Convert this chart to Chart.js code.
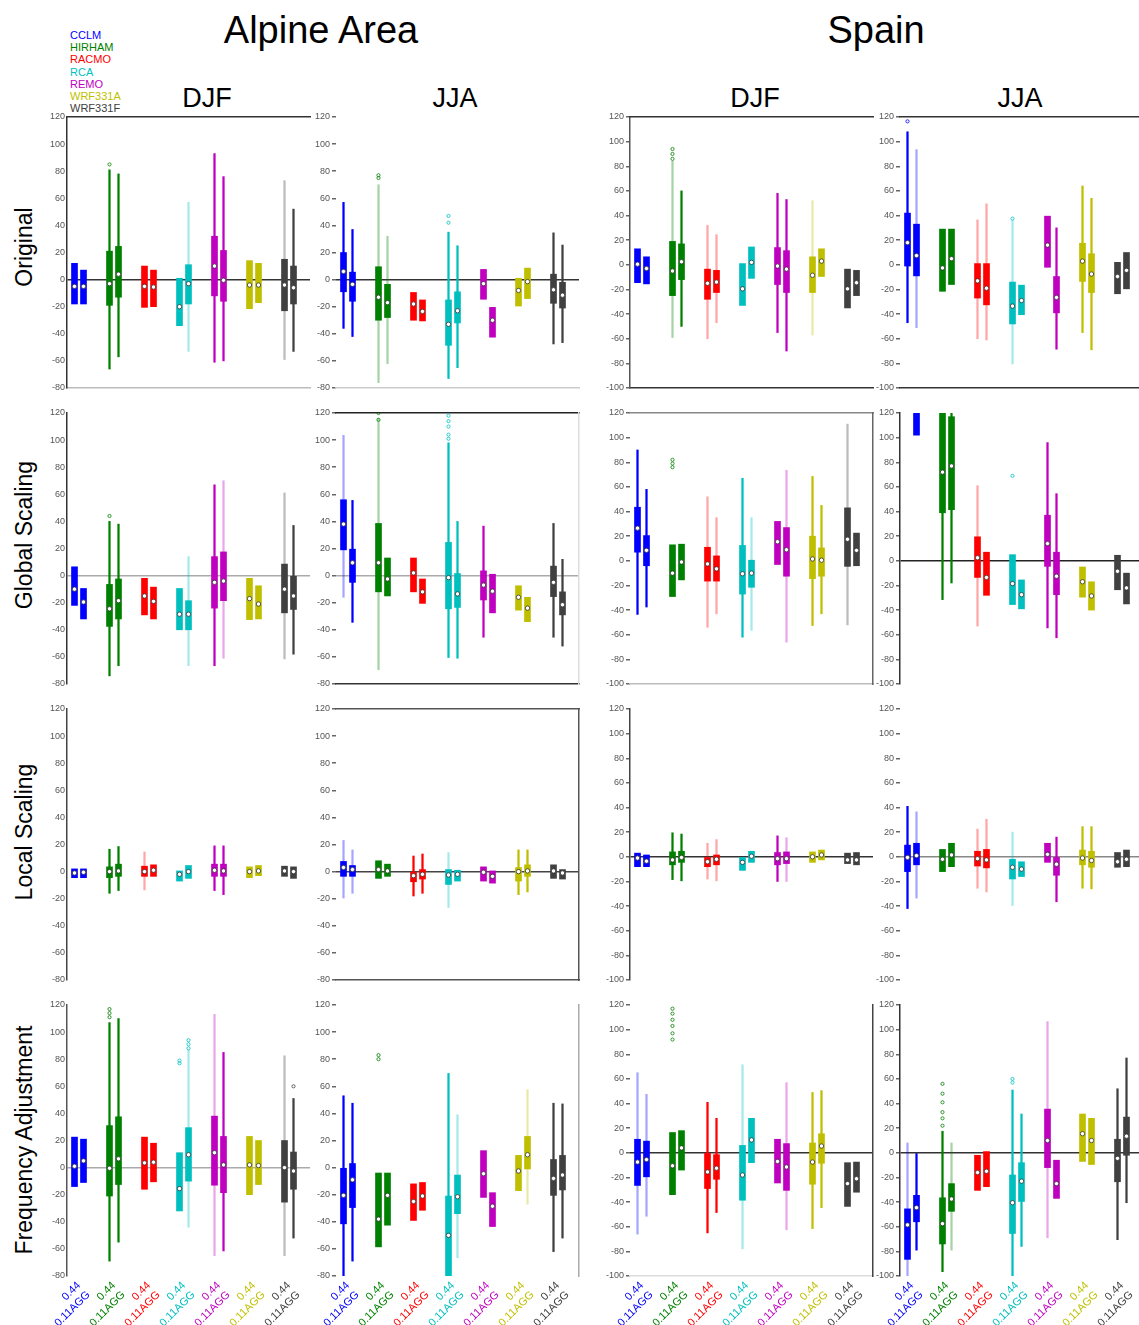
<!DOCTYPE html>
<html lang="en">
<head>
<meta charset="UTF-8">
<title>Alpine Area / Spain - boxplots</title>
<script src="https://cdn.jsdelivr.net/npm/chart.js"></script>
<style>
  html, body { margin: 0; padding: 0; background: #fff; overflow: hidden; }
  body { width: 1139px; height: 1325px; position: relative; font-family: "Liberation Sans", Arial, sans-serif; }
  .t { position: absolute; white-space: nowrap; color: #000; }
  .region { font-size: 38px; line-height: 38px; transform: translateX(-50%); }
  .season { font-size: 27px; line-height: 27px; transform: translateX(-50%); }
  .rowlab { font-size: 23px; line-height: 23px; transform: translate(-50%, -50%) rotate(-90deg); }
  #legend { position: absolute; left: 70px; top: 29px; font-size: 11px; line-height: 12.2px; }
  canvas { position: absolute; }
</style>
</head>
<body>
<div id="legend"></div>
<script>
const models = ['CCLM', 'HIRHAM', 'RACMO', 'RCA', 'REMO', 'WRF331A', 'WRF331F'];
const resolutions = ['0.44', '0.11AGG'];
const regions = ['Alpine Area', 'Spain'];
const seasons = ['DJF', 'JJA', 'DJF', 'JJA'];
const rowNames = ['Original', 'Global Scaling', 'Local Scaling', 'Frequency Adjustment'];
const alpineTicks = [-80, -60, -40, -20, 0, 20, 40, 60, 80, 100, 120];
const spainTicks = [-100, -80, -60, -40, -20, 0, 20, 40, 60, 80, 100, 120];

// each row: [whisker low, q1, median, q3, whisker high], order CCLM 0.44, CCLM 0.11AGG, HIRHAM 0.44 ...
const alpineDjfOriginal = [
  [null, -18, -5, 12, null], [null, -18, -5, 7, null],
  [-66, -19, -3, 21, 81], [-57, -13, 4, 24.5, 78],
  [null, -20.5, -5, 10, null], [null, -20, -5.5, 7, null],
  [null, -34, -20, 1, null], [-53, -18, -3, 11, 57],
  [-61, -12, 10, 32, 93], [-60, -16, -0.5, 21.5, 76],
  [null, -21.5, -4, 14, null], [null, -17, -4, 12, null],
  [-59, -23, -4, 15, 73], [-53, -18, -6, 10, 52]
];
const alpineJjaOriginal = [
  [-36, -9, 6, 20, 57], [-42, -16, -3.5, 5.5, 37],
  [-76, -30, -13, 9.5, 70], [-62, -28, -17, -3.5, 32],
  [null, -30, -18, -9.5, null], [null, -30.5, -23.5, -15, null],
  [-73, -48.5, -33, -15, 35], [-65, -32, -23, -9, 25],
  [null, -14.5, -3, 7.5, null], [null, -42.5, -30, -20.5, null],
  [null, -19.5, -8, 1, null], [null, -14, -1.5, 8.5, null],
  [-47.5, -17.5, -7.5, 4, 34.5], [-46.5, -21, -11.5, -2, 25.5]
];
const spainDjfOriginal = [
  [null, -14.5, 0.5, 13, null], [null, -15.5, -3, 6.5, null],
  [-59, -25, -5, 19, 84], [-50, -12, 2.5, 17, 60],
  [-60, -28, -15, -3.5, 32], [-47, -22.5, -14, -4.5, 24.5],
  [null, -33, -19.5, 1, null], [null, -11, 2, 14.5, null],
  [-55, -16, -1, 14, 58], [-70, -22.5, -3.5, 11.5, 53],
  [-57, -22.5, -8.5, 6.5, 52], [null, -9.5, 3, 13, null],
  [null, -35, -19.5, -3.5, null], [null, -25, -14.5, -4.5, null]
];
const spainJjaOriginal = [
  [-47, -1, 18, 42, 108], [-51, -9, 7.5, 33, 93.5],
  [null, -21.5, -2.5, 29, null], [null, -16, 5, 29, null],
  [-60, -27, -13, 1, 36.5], [-61, -32.5, -19, 1, 49.5],
  [-80.5, -48, -33.5, -14, 36], [null, -40.5, -29, -16.5, null],
  [null, -2, 16, 39.5, null], [-68.5, -39, -26.5, -9.5, 30],
  [-55, -13.5, 3, 17.5, 64], [-69, -22.5, -7.5, 9, 54],
  [null, -23.5, -9.5, 2, null], [null, -19.5, -4.5, 10, null]
];
const alpineDjfGlobal = [
  [null, -22, -10, 6.5, null], [null, -32, -19.5, -9.5, null],
  [-74, -37.5, -24.5, -6.5, 40], [-66.5, -32, -18.5, -2.5, 38],
  [null, -29, -15, -2, null], [null, -32, -19, -8.5, null],
  [null, -40, -28.5, -9.5, null], [-66.5, -40, -28.5, -18.5, 14],
  [-66.5, -24, -5, 14, 67], [-61, -18.5, -4, 17.5, 70],
  [null, -32.5, -17, -2, null], [null, -32, -21, -7.5, null],
  [-61.5, -27.5, -10, 8.5, 61], [-58, -25, -15, -0.5, 37]
];
const alpineJjaGlobal = [
  [-16, 19, 38, 56, 103.5], [-34.5, -5, 9.5, 19.5, 55.5],
  [-69.5, -12, 9.5, 38.5, 116], [null, -15, -2.5, 13, null],
  [null, -12, 2, 13, null], [null, -20.5, -12, -2.5, null],
  [-60.5, -24.5, -1.5, 24.5, 98], [-61, -23.5, -13.5, 1.5, 40],
  [-45.5, -18, -7, 3.5, 36.5], [null, -27.5, -11.5, 1, null],
  [null, -25.5, -16, -7.5, null], [null, -34, -24, -16, null],
  [-45.5, -15.5, -5, 7, 38.5], [-52, -29, -21.5, -12, 12]
];
const spainDjfGlobal = [
  [-43.5, 7, 26.5, 43.5, 90], [-37.5, -4, 8.5, 20.5, 58],
  [null, -29, -10, 13, null], [null, -15.5, -1, 13.5, null],
  [-54, -16.5, -2.5, 11, 52], [-43, -16.5, -6.5, 4, 35],
  [-62, -27, -10.5, 12.5, 67], [-56.5, -21.5, -10, 0.5, 35],
  [null, -3, 15.5, 32, null], [-66, -12.5, 9, 27, 73.5],
  [-52.5, -14.5, 1.5, 20, 68.5], [-43, -12.5, 0.5, 10.5, 45],
  [-52, -4.5, 17.5, 43, 111], [null, -4, 8.5, 22.5, null]
];
const spainJjaGlobal = [
  [null, 130, 145, 160, null], [null, 102, 130, 150, null],
  [-31.5, 39, 72, 125, 140], [-18, 41.5, 77, 117, 125],
  [-53, -13.5, 2.5, 19.5, 61], [null, -28, -13.5, 7, null],
  [null, -35.5, -18.5, 5, null], [null, -39, -27.5, -15.5, null],
  [-54.5, -4.5, 14, 37, 96], [-62.5, -27.5, -12.5, 7, 54.5],
  [null, -29.5, -17, -5, null], [null, -40, -28.5, -17, null],
  [null, -23.5, -8.5, 4.5, null], [null, -35, -22, -10, null]
];
const alpineDjfLocal = [
  [null, -4.5, -1, 2, null], [null, -4.5, -0.5, 2, null],
  [-16, -4.5, 0, 3.5, 16.5], [-14, -3.5, 0.5, 5.5, 18.5],
  [-13.5, -3.5, 0, 4, 14.5], [null, -3.5, 1, 5, null],
  [null, -7, -2, 0.5, null], [null, -5, 0, 4.5, null],
  [-14, -3.5, 1, 5.5, 19], [-17, -3.5, 0.5, 5.5, 19],
  [null, -4.5, 0, 3.5, null], [null, -3, 0.5, 4.5, null],
  [null, -3.5, 0.5, 4, null], [null, -5, 0, 3.5, null]
];
const alpineJjaLocal = [
  [-19.5, -3.5, 3, 7.5, 23], [-16, -3.5, 1.5, 4.5, 16],
  [null, -5, 1.5, 8, null], [null, -3.5, 0.5, 5.5, null],
  [-18, -7.5, -3, 0, 11.5], [-16, -5.5, -2, 1.5, 13],
  [-26.5, -9.5, -2.5, 1.5, 14], [null, -7, -2, 1, null],
  [null, -7, -0.5, 3.5, null], [null, -8.5, -3.5, 0.5, null],
  [-17, -7, 0, 3, 16], [-15, -3.5, 0.5, 5, 16],
  [null, -5, 0.5, 5, null], [null, -5.5, -1, 1.5, null]
];
const spainDjfLocal = [
  [null, -8, -1, 3, null], [null, -8, -3.5, 1.5, null],
  [-18.5, -6.5, -2.5, 4, 19.5], [-19.5, -4.5, -0.5, 4.5, 18.5],
  [-18, -8, -4, -0.5, 11], [-19.5, -6.5, -2, 1.5, 14],
  [null, -11, -4.5, -0.5, null], [null, -4.5, 0.5, 4.5, null],
  [-20, -6.5, -1.5, 3.5, 17], [-20, -5.5, -1.5, 4, 15.5],
  [null, -4.5, 0, 4, null], [null, -2.5, 1.5, 5.5, null],
  [null, -5.5, -2.5, 3, null], [null, -6.5, -2.5, 3.5, null]
];
const spainJjaLocal = [
  [-42, -12, -0.5, 9.5, 41], [-33.5, -6.5, 1, 11, 36.5],
  [null, -12, -2, 6, null], [null, -8, 1.5, 11, null],
  [-25.5, -7.5, -1.5, 4.5, 22.5], [-28.5, -9, -2.5, 6, 30.5],
  [-39.5, -18, -8.5, -2, 20], [null, -16, -10, -4, null],
  [null, -4.5, 2, 11, null], [-36.5, -15, -6, -0.5, 16],
  [-25.5, -6.5, -1, 5.5, 24.5], [-26, -8.5, -3, 4.5, 24.5],
  [null, -8.5, -4, 3.5, null], [null, -8, -2, 5.5, null]
];
const alpineDjfFreq = [
  [null, -14, 1, 22.5, null], [null, -11, 5, 21, null],
  [-69, -21, -0.5, 31, 107], [-55, -12.5, 6.5, 37.5, 110],
  [null, -16, 3.5, 22.5, null], [null, -10.5, 4, 18, null],
  [null, -32, -15.5, 11, null], [-44, -10, 9.5, 29.5, 87],
  [-65, -13, 11, 38, 113], [-61.5, -18.5, 2, 23, 85],
  [null, -20, 2, 23, null], [null, -12.5, 1.5, 20, null],
  [-65, -25.5, 0, 20, 82.5], [-52, -16, -2.5, 11.5, 51]
];
const alpineJjaFreq = [
  [-80, -41.5, -20.5, -0.5, 53], [-69, -29.5, -9, 3, 47.5],
  [null, -58.5, -38, -4, null], [null, -42.5, -20.5, -4, null],
  [null, -39, -25, -12, null], [null, -31.5, -21, -11, null],
  [-80, -80, -50, -21, 69.5], [-66.5, -34, -21.5, -5.5, 39],
  [null, -22, -4.5, 12.5, null], [null, -43.5, -28.5, -18.5, null],
  [null, -17, -2.5, 9, null], [-27, -1, 9.5, 23, 57.5],
  [-62, -20.5, -8, 6, 47.5], [-52, -16.5, -5.5, 9, 47]
];
const spainDjfFreq = [
  [-66, -26.5, -7.5, 11, 65], [-51.5, -19.5, -5.5, 9.5, 47.5],
  [null, -34, -10.5, 16.5, null], [null, -14, 4, 18, null],
  [-65, -29, -15.5, -0.5, 41], [-48.5, -21.5, -12.5, -1.5, 28],
  [-78, -38.5, -18, 6, 71.5], [null, -8, 10.5, 28, null],
  [null, -24.5, -7, 11, null], [-62.5, -30.5, -11.5, 7.5, 57],
  [-61.5, -25.5, -7.5, 8, 49], [-44.5, -8.5, 5.5, 15.5, 50.5],
  [null, -43.5, -25, -8, null], [null, -32, -21, -7.5, null]
];
const spainJjaFreq = [
  [-100, -86.5, -58.5, -45.5, 8], [-79, -56, -44.5, -34.5, 0],
  [-96.5, -74, -57.5, -36.5, 17.5], [-79, -47.5, -37.5, -25, 8],
  [null, -30.5, -16, -2, null], [null, -27.5, -15, 1, null],
  [-100, -65.5, -40.5, -18, 51], [-76, -39.5, -23, -8, 31.5],
  [-69, -12, 10, 35.5, 106.5], [null, -37, -25, -6, null],
  [null, -7, 15.5, 31.5, null], [null, -9.5, 10, 28, null],
  [-70.5, -23.5, -4.5, 11, 52], [-40.5, -2, 13.5, 29, 77]
];

// outliers: [box index, value]
const alpineDjfOriginalOut = [[2, 85]];
const alpineJjaOriginalOut = [[2, 75], [2, 77], [6, 42], [6, 47]];
const spainDjfOriginalOut = [[2, 86], [2, 90], [2, 94]];
const spainJjaOriginalOut = [[0, 116.5], [6, 37.5]];
const alpineDjfGlobalOut = [[2, 44]];
const alpineJjaGlobalOut = [[2, 120], [2, 115], [6, 118], [6, 114], [6, 110], [6, 104], [6, 101]];
const spainDjfGlobalOut = [[2, 76], [2, 79], [2, 82]];
const spainJjaGlobalOut = [[6, 69]];
const alpineDjfFreqOut = [[2, 111], [2, 114], [2, 117], [6, 77], [6, 79], [7, 88], [7, 91], [7, 94], [13, 60]];
const alpineJjaFreqOut = [[2, 80], [2, 83]];
const spainDjfFreqOut = [[2, 92], [2, 97], [2, 103], [2, 108], [2, 113], [2, 117]];
const spainJjaFreqOut = [[2, 22], [2, 28], [2, 33], [2, 41], [2, 48], [2, 56], [6, 57], [6, 60]];

const panelData = [
  [alpineDjfOriginal, alpineJjaOriginal, spainDjfOriginal, spainJjaOriginal],
  [alpineDjfGlobal, alpineJjaGlobal, spainDjfGlobal, spainJjaGlobal],
  [alpineDjfLocal, alpineJjaLocal, spainDjfLocal, spainJjaLocal],
  [alpineDjfFreq, alpineJjaFreq, spainDjfFreq, spainJjaFreq]
];
const panelOutliers = [
  [alpineDjfOriginalOut, alpineJjaOriginalOut, spainDjfOriginalOut, spainJjaOriginalOut],
  [alpineDjfGlobalOut, alpineJjaGlobalOut, spainDjfGlobalOut, spainJjaGlobalOut],
  [[], [], [], []],
  [alpineDjfFreqOut, alpineJjaFreqOut, spainDjfFreqOut, spainJjaFreqOut]
];

// ---- styling / layout ----
const modelColors = ['#0000ff', '#008000', '#ff0000', '#00bfbf', '#bf00bf', '#bfbf00', '#404040'];
// whiskers drawn faint (index into the 14 boxes)
const faint = [
  [[7, 12], [2, 3], [2, 4, 5, 10], [1, 4, 5, 6]],
  [[7, 9, 12], [0, 2], [4, 5, 7, 9, 12], [4]],
  [[4], [0, 1, 6], [4, 5, 9], [1, 4, 5, 6]],
  [[7, 8, 12], [7, 11], [0, 1, 6, 9], [0, 3, 8]]
];
// frame lines per panel
const frames = [
  [{left: '#333', top: '#333', bottom: '#bbb', zero: '#333'}, {bottom: '#ccc', zero: '#333'},
   {left: '#555', top: '#333', bottom: '#333'}, {top: '#333', bottom: '#333'}],
  [{left: '#333', zero: '#aaa'}, {top: '#222', bottom: '#333', right: '#ddd', zero: '#aaa'},
   {top: '#888', bottom: '#bbb', right: '#666'}, {left: '#333', zero: '#222'}],
  [{left: '#444'}, {top: '#555', right: '#555', bottom: '#555', zero: '#444'},
   {left: '#444', zero: '#333'}, {zero: '#888'}],
  [{left: '#555', zero: '#aaa'}, {right: '#aaa'},
   {right: '#444', bottom: '#ddd', zero: '#333'}, {left: '#333', zero: '#333'}]
];
const colLeft = [67, 336, 630, 900];
const rowTop = [117, 413, 709, 1005];
const plotW = 243, plotH = 271, groupPx = 35;

function fade(hex, a) {
  const n = parseInt(hex.slice(1), 16);
  return 'rgba(' + (n >> 16) + ',' + ((n >> 8) & 255) + ',' + (n & 255) + ',' + a + ')';
}

function addText(cls, txt, left, top) {
  const d = document.createElement('div');
  d.className = 't ' + cls;
  d.textContent = txt;
  d.style.left = left + 'px';
  d.style.top = top + 'px';
  document.body.appendChild(d);
}

// titles, season headers, row labels, legend
addText('region', regions[0], 321, 11);
addText('region', regions[1], 876, 11);
[207, 455, 755, 1020].forEach((x, i) => addText('season', seasons[i], x, 85));
[247, 535, 832, 1140].forEach((y, i) => addText('rowlab', rowNames[i], 24, y));
const legend = document.getElementById('legend');
models.forEach((m, i) => {
  const d = document.createElement('div');
  d.textContent = m;
  d.style.color = modelColors[i];
  legend.appendChild(d);
});

function makePanel(r, c) {
  const rows = panelData[r][c];
  const ticks = c >= 2 ? spainTicks : alpineTicks;
  const frame = frames[r][c];
  const faintSet = faint[r][c];
  const last = r === 3;
  const axisW = 40, padTop = 8, padRight = 8;
  const bottomH = last ? 50 : 0, padBottom = last ? 0 : 8;
  const w = axisW + plotW + padRight, h = padTop + plotH + bottomH + padBottom;

  const cv = document.createElement('canvas');
  cv.width = w; cv.height = h;
  cv.style.width = w + 'px'; cv.style.height = h + 'px';
  cv.style.left = (colLeft[c] - axisW) + 'px';
  cv.style.top = (rowTop[r] - padTop) + 'px';
  document.body.appendChild(cv);

  const xOf = i => Math.floor(i / 2) + (i % 2 === 0 ? 7.5 : 16.5) / groupPx;
  const whisk = [], whiskCol = [], box = [], boxCol = [], med = [];
  rows.forEach((v, i) => {
    const col = modelColors[Math.floor(i / 2)];
    if (v[0] !== null) {
      whisk.push({x: xOf(i), y: [v[0], v[4]]});
      whiskCol.push(faintSet.includes(i) ? fade(col, 0.35) : col);
    }
    box.push({x: xOf(i), y: [v[1], v[3]]});
    boxCol.push(col);
    med.push({x: xOf(i), y: v[2]});
  });
  const outs = panelOutliers[r][c];
  const outPts = outs.map(o => ({x: xOf(o[0]), y: o[1]}));
  const outCol = outs.map(o => modelColors[Math.floor(o[0] / 2)]);

  new Chart(cv.getContext('2d'), {
    type: 'bar',
    data: {
      datasets: [
        {type: 'scatter', data: med, xAxisID: 'x', yAxisID: 'y', order: 1,
         pointRadius: 2.2, pointBackgroundColor: '#fff', pointBorderColor: '#333', pointBorderWidth: 0.8},
        {type: 'scatter', data: outPts, xAxisID: 'x', yAxisID: 'y', order: 2,
         pointRadius: 1.6, pointBackgroundColor: 'rgba(0,0,0,0)', pointBorderColor: outCol, pointBorderWidth: 0.8},
        {data: box, xAxisID: 'x', yAxisID: 'y', order: 3, grouped: false,
         barThickness: 6, backgroundColor: boxCol, borderWidth: 0},
        {data: whisk, xAxisID: 'x', yAxisID: 'y', order: 4, grouped: false,
         barThickness: 1.6, backgroundColor: whiskCol, borderWidth: 0}
      ]
    },
    options: {
      responsive: false,
      animation: false,
      devicePixelRatio: 1,
      events: [],
      layout: {padding: {top: padTop, right: padRight, bottom: padBottom, left: 0}},
      plugins: {legend: {display: false}, tooltip: {enabled: false}},
      scales: {
        x: {
          type: 'linear', min: 0, max: plotW / groupPx, offset: false,
          afterBuildTicks: s => { if (last) s.ticks = models.map((m, i) => ({value: i + 12 / groupPx})); },
          afterFit: s => { s.height = bottomH; },
          grid: {display: false, drawTicks: false},
          border: {display: !!frame.bottom, color: frame.bottom || '#000', width: 1.5},
          ticks: {
            display: last, autoSkip: false, minRotation: 45, maxRotation: 45, padding: 3,
            color: ctx => modelColors[ctx.index], font: {size: 11, family: 'Liberation Sans'},
            callback: () => resolutions
          }
        },
        y: {
          type: 'linear', min: ticks[0], max: ticks[ticks.length - 1],
          afterBuildTicks: s => { s.ticks = ticks.map(v => ({value: v})); },
          afterFit: s => { s.width = axisW; },
          ticks: {font: {size: 9, family: 'Liberation Sans'}, color: '#555', padding: 2},
          grid: {
            drawOnChartArea: true, drawTicks: c > 0, tickLength: 4, tickColor: '#666', lineWidth: 1.5,
            color: ctx => (ctx.tick && ctx.tick.value === 0 && frame.zero) ? frame.zero : 'rgba(0,0,0,0)'
          },
          border: {display: !!frame.left, color: frame.left || '#000', width: 1.5}
        },
        x2: {
          type: 'linear', position: 'top', display: !!frame.top,
          afterFit: s => { s.height = 0; },
          grid: {display: false, drawTicks: false}, ticks: {display: false},
          border: {display: true, color: frame.top || '#000', width: 1.5}
        },
        y2: {
          type: 'linear', position: 'right', display: !!frame.right,
          afterFit: s => { s.width = 0; },
          grid: {display: false, drawTicks: false}, ticks: {display: false},
          border: {display: true, color: frame.right || '#000', width: 1.5}
        }
      }
    }
  });
}

for (let r = 0; r < 4; r++) {
  for (let c = 0; c < 4; c++) makePanel(r, c);
}
</script>
</body>
</html>
